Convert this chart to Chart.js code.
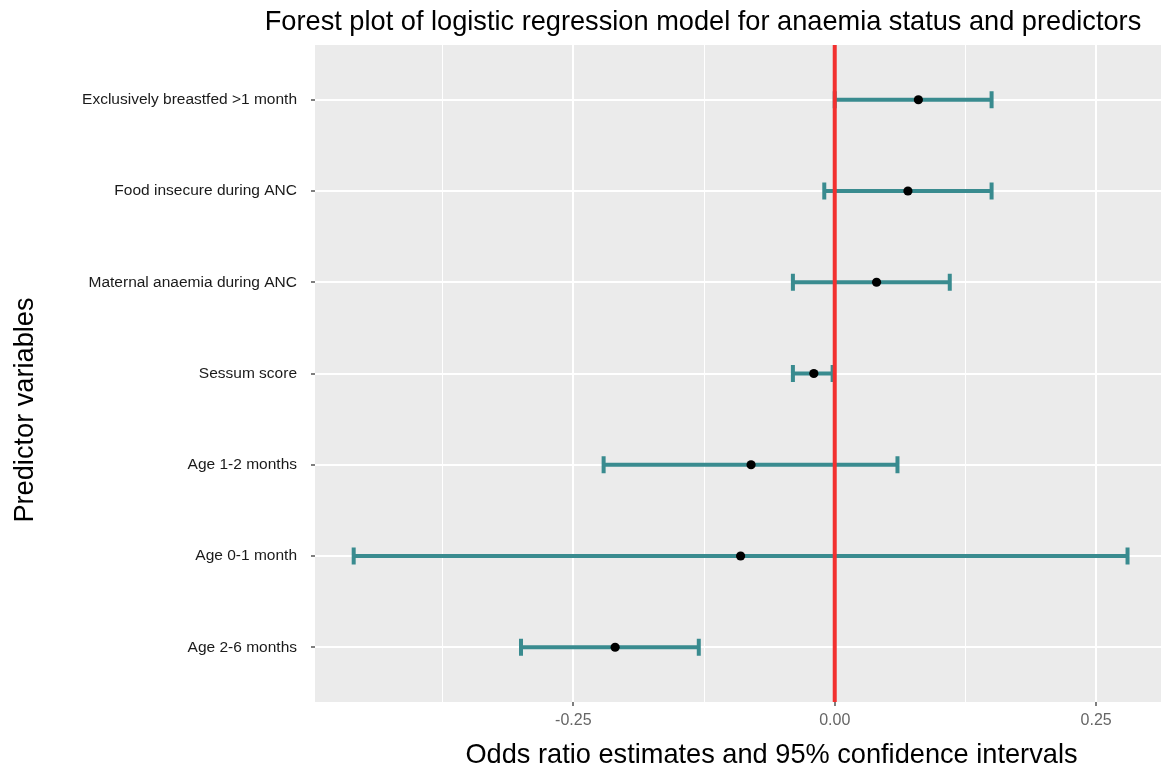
<!DOCTYPE html>
<html>
<head>
<meta charset="utf-8">
<script src="https://cdn.jsdelivr.net/npm/chart.js@4.4.1/dist/chart.umd.min.js"></script>
<style>
  html, body { margin: 0; padding: 0; background: #ffffff; }
  #wrap { width: 1161px; height: 773px; position: relative; }
</style>
</head>
<body>
<div id="wrap"><canvas id="c" width="1161" height="773"></canvas></div>
<script>
// ---- Data (top to bottom as shown in the chart) ----
const categories = [
  "Exclusively breastfed >1 month",
  "Food insecure during ANC",
  "Maternal anaemia during ANC",
  "Sessum score",
  "Age 1-2 months",
  "Age 0-1 month",
  "Age 2-6 months"
];
const estimates = [0.080, 0.070, 0.040, -0.020, -0.080, -0.090, -0.210];
const lowerCI   = [0.000, -0.010, -0.040, -0.040, -0.221, -0.460, -0.300];
const upperCI   = [0.150, 0.150, 0.110, -0.002, 0.060, 0.280, -0.130];
const referenceValue = 0;
const xTickValues = [-0.375, -0.25, -0.125, 0, 0.125, 0.25];
const xTickLabels = ["", "-0.25", "", "0.00", "", "0.25"];

const titleText = "Forest plot of logistic regression model for anaemia status and predictors";
const xTitleText = "Odds ratio estimates and 95% confidence intervals";
const yTitleText = "Predictor variables";

// ---- Styles ----
const TEAL = "#398b8f";
const RED = "#f2302f";
const PANEL = "#ebebeb";
const FONT = "'Liberation Sans', Arial, Helvetica, sans-serif";

const ciDatasets = categories.map((c, i) => ({
  type: "line",
  label: c,
  data: [{ x: lowerCI[i], y: i }, { x: upperCI[i], y: i }],
  showLine: true,
  borderColor: TEAL,
  borderWidth: 4,
  pointStyle: "line",
  rotation: 90,
  pointRadius: 8.5,
  pointHoverRadius: 8.5,
  pointBorderWidth: 4,
  pointBorderColor: TEAL,
  pointBackgroundColor: TEAL,
  order: 2
}));

const refDataset = {
  type: "line",
  label: "reference",
  data: [{ x: referenceValue, y: -0.6 }, { x: referenceValue, y: categories.length - 0.4 }],
  showLine: true,
  borderColor: RED,
  borderWidth: 4,
  pointRadius: 0,
  order: 1
};

const pointDataset = {
  type: "scatter",
  label: "estimate",
  data: estimates.map((v, i) => ({ x: v, y: i })),
  pointRadius: 4.6,
  pointHoverRadius: 4.6,
  pointBackgroundColor: "#000000",
  pointBorderColor: "#000000",
  pointBorderWidth: 0,
  order: 0
};

const panelBg = {
  id: "panelBg",
  beforeDraw(chart) {
    const { ctx, chartArea: a } = chart;
    ctx.save();
    ctx.fillStyle = "#ffffff";
    ctx.fillRect(0, 0, chart.width, chart.height);
    ctx.fillStyle = PANEL;
    ctx.fillRect(a.left, a.top, a.right - a.left, a.bottom - a.top);
    ctx.restore();
  }
};

const titles = {
  id: "titles",
  afterDraw(chart) {
    const ctx = chart.ctx;
    ctx.save();
    ctx.fillStyle = "#000000";
    ctx.font = "27.2px " + FONT;
    ctx.textAlign = "center";
    ctx.textBaseline = "alphabetic";
    ctx.fillText(titleText, 703, 30);
    ctx.fillText(xTitleText, 771.5, 763);
    ctx.translate(33, 410);
    ctx.rotate(-Math.PI / 2);
    ctx.fillText(yTitleText, 0, 0);
    ctx.restore();
  }
};

const isMajor = (v) => Math.abs(Math.round(v / 0.25) * 0.25 - v) < 1e-9;

new Chart(document.getElementById("c"), {
  type: "scatter",
  data: { datasets: [pointDataset, refDataset, ...ciDatasets] },
  options: {
    responsive: false,
    animation: false,
    devicePixelRatio: 1,
    layout: { autoPadding: false, padding: { top: 45, left: 0, right: 0, bottom: 0 } },
    plugins: {
      legend: { display: false },
      title: { display: false },
      tooltip: { enabled: false }
    },
    scales: {
      x: {
        type: "linear",
        min: -0.497,
        max: 0.312,
        afterBuildTicks(scale) {
          scale.ticks = xTickValues.map(v => ({ value: v }));
        },
        afterFit(scale) {
          scale.height = 71;
          scale.paddingLeft = 0;
          scale.paddingRight = 0;
        },
        border: { display: false },
        grid: {
          color: "#ffffff",
          lineWidth: (ctx) => (ctx.tick && isMajor(ctx.tick.value) ? 2 : 1),
          drawTicks: true,
          tickLength: 4,
          tickWidth: 1.5,
          tickColor: (ctx) => (ctx.tick && isMajor(ctx.tick.value) ? "#555555" : "rgba(0,0,0,0)")
        },
        ticks: {
          autoSkip: false,
          maxRotation: 0,
          padding: 5,
          color: "#666666",
          font: { family: FONT, size: 16 },
          callback: (value, index) => xTickLabels[index]
        }
      },
      y: {
        type: "linear",
        min: -0.6,
        max: categories.length - 0.4,
        reverse: true,
        afterBuildTicks(scale) {
          scale.ticks = categories.map((c, i) => ({ value: i }));
        },
        afterFit(scale) {
          scale.width = 315;
          scale.paddingTop = 0;
          scale.paddingBottom = 0;
        },
        border: { display: false },
        grid: {
          color: "#ffffff",
          lineWidth: 2,
          drawTicks: true,
          tickLength: 4,
          tickWidth: 1.5,
          tickColor: "#555555"
        },
        ticks: {
          autoSkip: false,
          padding: 14,
          color: "#1a1a1a",
          font: { family: FONT, size: 15.5 },
          callback: (value) => categories[value]
        }
      }
    }
  },
  plugins: [panelBg, titles]
});
</script>
</body>
</html>
